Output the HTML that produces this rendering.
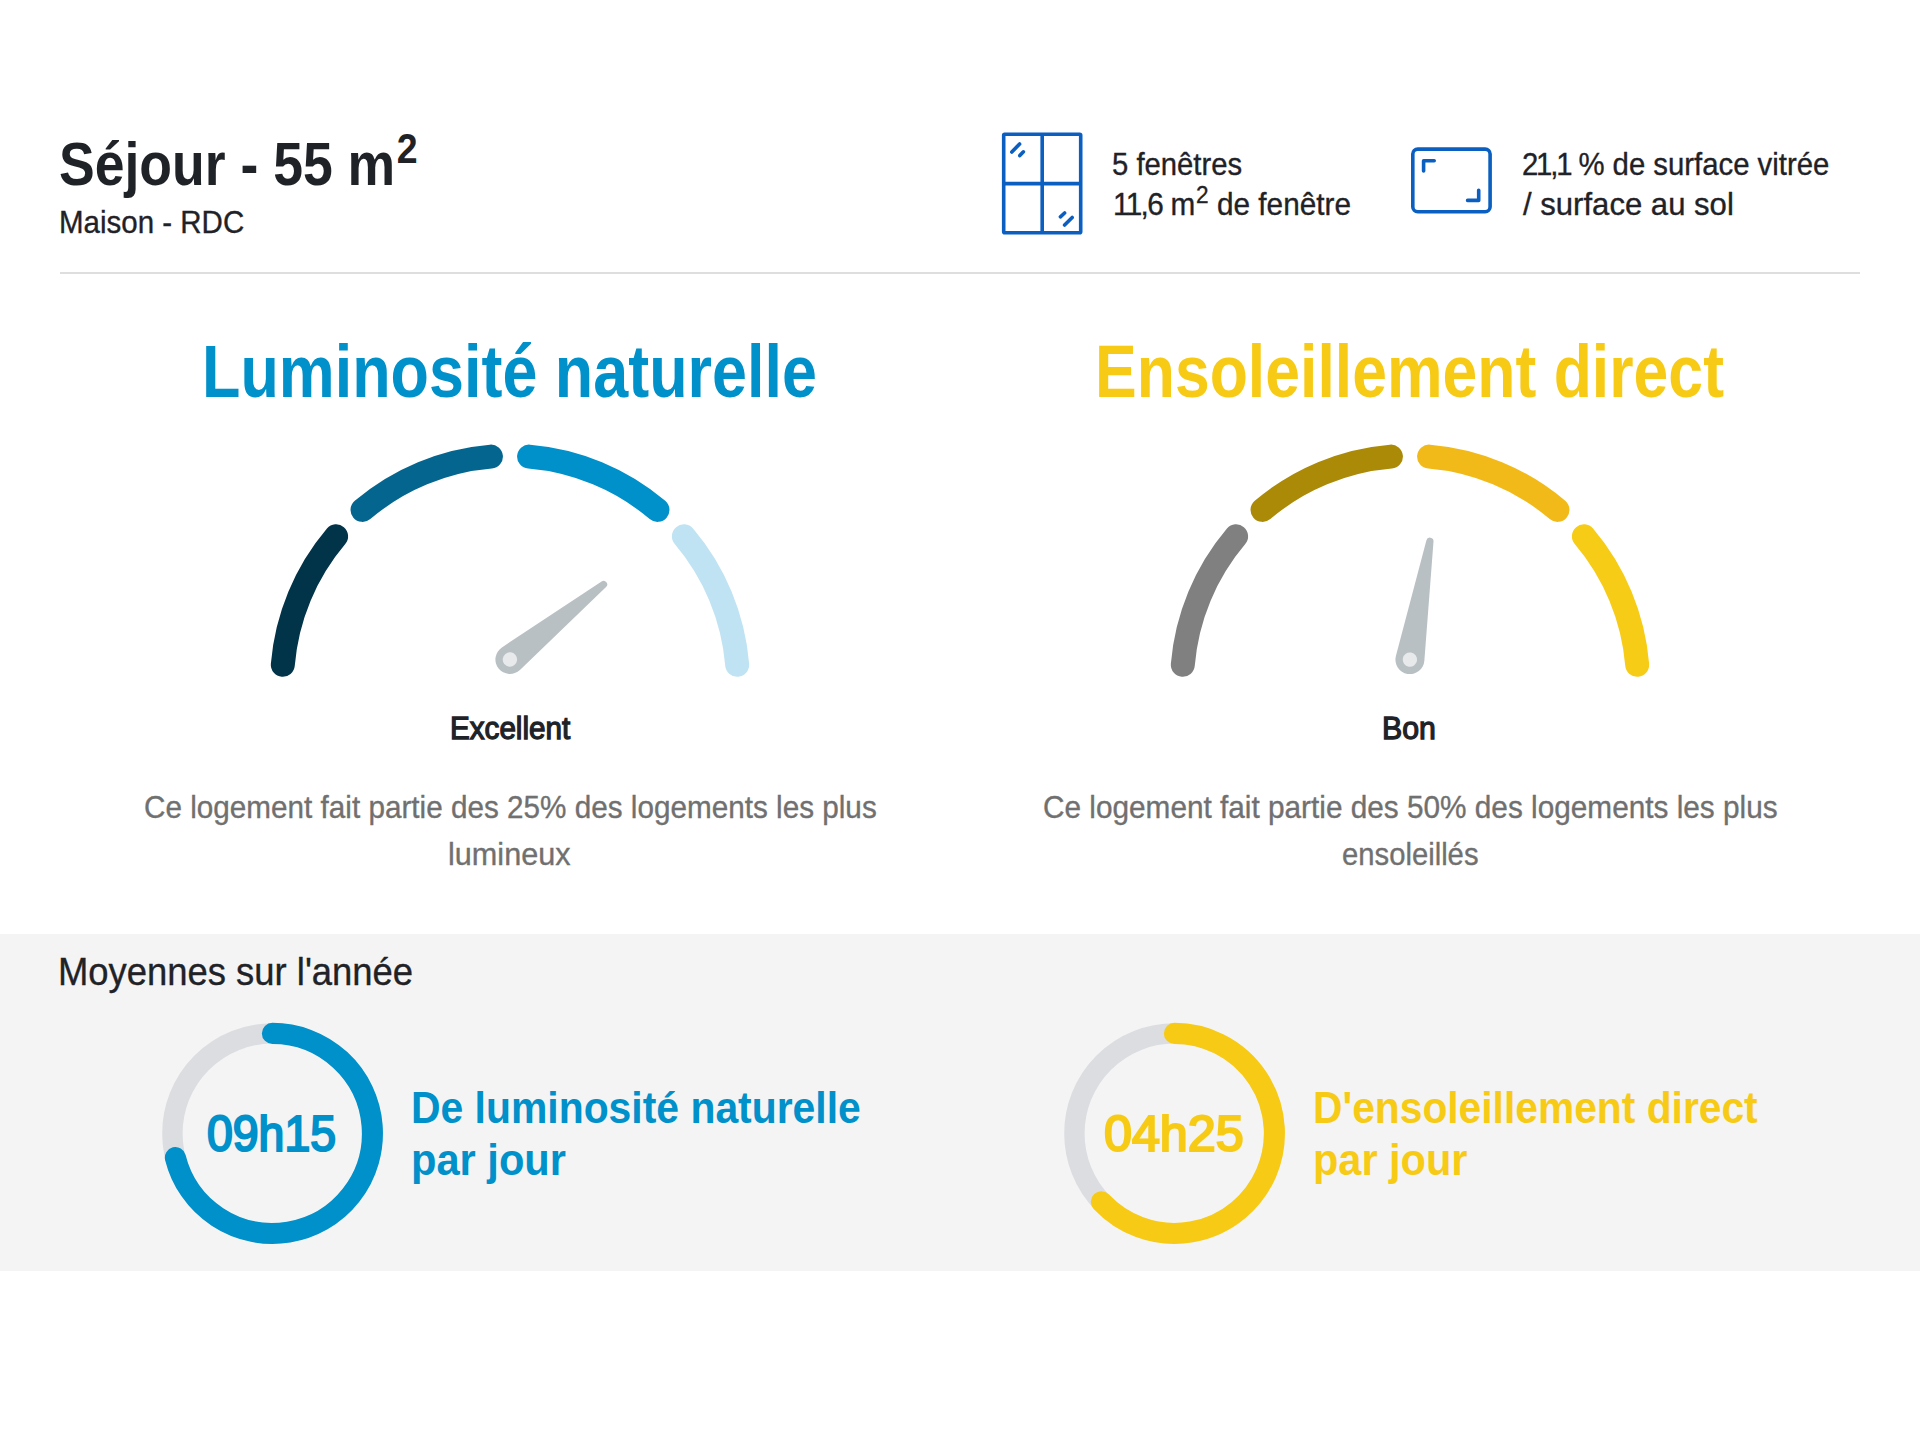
<!DOCTYPE html>
<html lang="fr">
<head>
<meta charset="utf-8">
<title>Séjour - Luminosité naturelle et ensoleillement direct</title>
<style>
html,body{margin:0;padding:0;background:#fff}
body{width:1920px;height:1440px;position:relative;overflow:hidden;font-family:"Liberation Sans", sans-serif;}
.t{position:absolute;white-space:nowrap;line-height:1;transform-origin:0 0;margin:0}
.gfx{position:absolute;left:0;top:0}
.rule{position:absolute;left:60px;top:271.5px;width:1800px;height:2px;background:#dedede}
.panel{position:absolute;left:0;top:933.7px;width:1920px;height:337.3px;background:#f4f4f4}
</style>
</head>
<body>
<header>
<div class="t" id="t1" style="left:59.03px;top:134px;font-size:60.6px;font-weight:bold;color:#1f2227;transform:scaleX(0.8836);">Séjour - 55 m<sup style="font-size:.7em;line-height:0;position:relative;top:-.03em;vertical-align:super;margin-left:.04em">2</sup></div>
<div class="t" id="t2" style="left:58.92px;top:207.1px;font-size:31.3px;font-weight:normal;color:#1f2227;transform:scaleX(0.9425);-webkit-text-stroke:0.35px #1f2227;">Maison - RDC</div>
<div class="t" id="t3" style="left:1112.37px;top:149px;font-size:31.5px;font-weight:normal;color:#1f2227;transform:scaleX(0.9283);-webkit-text-stroke:0.35px #1f2227;">5 fenêtres</div>
<div class="t" id="t4" style="left:1112.91px;top:189.2px;font-size:31.5px;font-weight:normal;color:#1f2227;transform:scaleX(0.9446);-webkit-text-stroke:0.35px #1f2227;"><span style="letter-spacing:-.055em">11,6</span> m<sup style="font-size:.76em;line-height:0;position:relative;top:-.02em;vertical-align:super;margin-left:.04em">2</sup> de fenêtre</div>
<div class="t" id="t5" style="left:1521.97px;top:149px;font-size:31.5px;font-weight:normal;color:#1f2227;transform:scaleX(0.9305);-webkit-text-stroke:0.35px #1f2227;"><span style="letter-spacing:-.075em">21,1</span> % de surface vitrée</div>
<div class="t" id="t6" style="left:1522.9px;top:188.6px;font-size:31.5px;font-weight:normal;color:#1f2227;transform:scaleX(0.9868);-webkit-text-stroke:0.35px #1f2227;">/ surface au sol</div>
</header>
<div class="rule"></div>
<svg class="gfx" width="1920" height="1440" viewBox="0 0 1920 1440">
<g id="icon-window" fill="none" stroke="#0a5fc0" stroke-width="3.6" stroke-linejoin="round">
<rect x="1003.7" y="134.2" width="77" height="98.6" rx="1"/>
<path d="M1042.2 134.2V232.8M1003.7 183.6H1080.7"/>
<path d="M1011.8 152L1019.6 144M1019.8 155.6L1023.4 151.8M1060.4 216.8L1064.6 213M1064.6 225L1072.2 217.4" stroke-width="3.6" stroke-linecap="round"/>
</g>
<g id="icon-surface" fill="none" stroke="#0a5fc0" stroke-width="3.6" stroke-linecap="round" stroke-linejoin="round">
<rect x="1412.8" y="149.1" width="77.3" height="62.6" rx="5"/>
<path d="M1423.6 171V160.7H1434.2M1478.7 190.2V200.4H1467.6"/>
</g>
<g id="gauge-lum">
<path d="M282.80 664.72A228 228 0 0 1 336.11 536.33" stroke="#013349" stroke-width="24" stroke-linecap="round" fill="none"/>
<path d="M362.53 509.91A228 228 0 0 1 490.92 456.60" stroke="#04668f" stroke-width="24" stroke-linecap="round" fill="none"/>
<path d="M529.08 456.60A228 228 0 0 1 657.47 509.91" stroke="#0090ca" stroke-width="24" stroke-linecap="round" fill="none"/>
<path d="M683.89 536.33A228 228 0 0 1 737.20 664.72" stroke="#bfe3f2" stroke-width="24" stroke-linecap="round" fill="none"/>
<g transform="translate(509.9 659.5) rotate(-38.7)"><path d="M1.32 -14.44L120.33 -3.59A3.6 3.6 0 0 1 120.33 3.59L1.32 14.44A14.5 14.5 0 1 1 1.32 -14.44Z" fill="#b9c0c4"/><circle r="7.2" fill="#e7e9eb"/></g>
</g>
<g id="gauge-sun">
<path d="M1182.80 664.72A228 228 0 0 1 1236.11 536.33" stroke="#808080" stroke-width="24" stroke-linecap="round" fill="none"/>
<path d="M1262.53 509.91A228 228 0 0 1 1390.92 456.60" stroke="#ab8a08" stroke-width="24" stroke-linecap="round" fill="none"/>
<path d="M1429.08 456.60A228 228 0 0 1 1557.47 509.91" stroke="#f2ba19" stroke-width="24" stroke-linecap="round" fill="none"/>
<path d="M1583.89 536.33A228 228 0 0 1 1637.20 664.72" stroke="#f7cc16" stroke-width="24" stroke-linecap="round" fill="none"/>
<g transform="translate(1409.9 659.6) rotate(-80.4)"><path d="M1.32 -14.44L120.33 -3.59A3.6 3.6 0 0 1 120.33 3.59L1.32 14.44A14.5 14.5 0 1 1 1.32 -14.44Z" fill="#b9c0c4"/><circle r="7.2" fill="#e7e9eb"/></g>
</g>
</svg>
<main>
<section>
<div class="t" id="h1" style="left:202.42px;top:336.3px;font-size:73.4px;font-weight:bold;color:#0090ca;transform:scaleX(0.8568);">Luminosité naturelle</div>
<div class="t" id="l1" style="left:449.62px;top:713.2px;font-size:31.5px;font-weight:normal;color:#1f2227;transform:scaleX(0.9405);-webkit-text-stroke:1.3px #1f2227;">Excellent</div>
<div class="t" id="p1a" style="left:143.65px;top:791.5px;font-size:31.3px;font-weight:normal;color:#707070;transform:scaleX(0.9486);-webkit-text-stroke:0.35px #707070;">Ce logement fait partie des 25% des logements les plus</div>
<div class="t" id="p1b" style="left:447.84px;top:839px;font-size:31.3px;font-weight:normal;color:#707070;transform:scaleX(0.9789);-webkit-text-stroke:0.35px #707070;">lumineux</div>
</section>
<section>
<div class="t" id="h2" style="left:1095.34px;top:336.3px;font-size:73.4px;font-weight:bold;color:#f7cb15;transform:scaleX(0.852);">Ensoleillement direct</div>
<div class="t" id="l2" style="left:1382.38px;top:713.3px;font-size:31.5px;font-weight:normal;color:#1f2227;transform:scaleX(0.9604);-webkit-text-stroke:1.3px #1f2227;">Bon</div>
<div class="t" id="p2a" style="left:1042.55px;top:791.5px;font-size:31.3px;font-weight:normal;color:#707070;transform:scaleX(0.951);-webkit-text-stroke:0.35px #707070;">Ce logement fait partie des 50% des logements les plus</div>
<div class="t" id="p2b" style="left:1341.57px;top:839px;font-size:31.3px;font-weight:normal;color:#707070;transform:scaleX(0.934);-webkit-text-stroke:0.35px #707070;">ensoleillés</div>
</section>
</main>
<footer>
<div class="panel"></div>
<svg class="gfx" width="1920" height="1440" viewBox="0 0 1920 1440">
<g id="ring-lum">
<circle cx="272.4" cy="1133.4" r="100" stroke="#dcdde1" stroke-width="20.4" fill="none"/>
<path d="M272.40 1033.40A100 100 0 1 1 175.37 1157.59" stroke="#0090ca" stroke-width="21.1" stroke-linecap="round" fill="none"/>
</g>
<g id="ring-sun">
<circle cx="1174.4" cy="1133.4" r="100" stroke="#dcdde1" stroke-width="20.4" fill="none"/>
<path d="M1174.40 1033.40A100 100 0 1 1 1101.38 1201.73" stroke="#f7cb15" stroke-width="21.1" stroke-linecap="round" fill="none"/>
</g>
</svg>
<div class="t" id="m1" style="left:57.93px;top:952.8px;font-size:38.0px;font-weight:normal;color:#1f2227;transform:scaleX(0.9582);-webkit-text-stroke:0.35px #1f2227;">Moyennes sur l'année</div>
<div class="t" id="v1" style="left:207.35px;top:1110.3px;font-size:49.1px;font-weight:normal;color:#0090ca;transform:scaleX(0.9452);-webkit-text-stroke:2.2px #0090ca;">09h15</div>
<div class="t" id="d1a" style="left:410.98px;top:1086px;font-size:44.3px;font-weight:bold;color:#0090ca;transform:scaleX(0.9229);">De luminosité naturelle</div>
<div class="t" id="d1b" style="left:410.93px;top:1137.5px;font-size:44.3px;font-weight:bold;color:#0090ca;transform:scaleX(0.9394);">par jour</div>
<div class="t" id="v2" style="left:1103.98px;top:1110.3px;font-size:49.1px;font-weight:normal;color:#f7cb15;transform:scaleX(1.023);-webkit-text-stroke:2.2px #f7cb15;">04h25</div>
<div class="t" id="d2a" style="left:1313.49px;top:1086px;font-size:44.3px;font-weight:bold;color:#f7cb15;transform:scaleX(0.9203);">D'ensoleillement direct</div>
<div class="t" id="d2b" style="left:1313.44px;top:1137.5px;font-size:44.3px;font-weight:bold;color:#f7cb15;transform:scaleX(0.9363);">par jour</div>
</footer>
</body>
</html>
